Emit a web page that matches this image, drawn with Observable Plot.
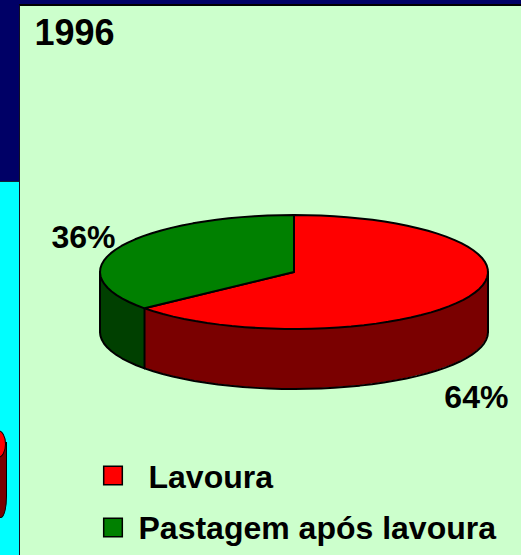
<!DOCTYPE html>
<html><head><meta charset="utf-8">
<script src="https://cdn.jsdelivr.net/npm/d3@7"></script>
<script src="https://cdn.jsdelivr.net/npm/@observablehq/plot@0.6"></script>
<style>
html,body{margin:0;padding:0;width:521px;height:555px;overflow:hidden;background:#000066}
#cyan{position:absolute;left:0;top:181px;width:19px;height:374px;background:#00ffff;border-top:1px solid #123;overflow:hidden}
#side{position:absolute;left:-10px;top:260px;width:16.5px;height:76px;background:#7a0000;border:1px solid #000;box-sizing:border-box;border-radius:0 0 6px 0/0 0 22px 0}
#lid{position:absolute;left:-10px;top:248px;width:16px;height:28px;background:#ff0000;border:1px solid #000;box-sizing:border-box;border-radius:50%}
#panel{position:absolute;left:19px;top:4px;width:502px;height:551px;background:#ccffcc;border-left:1px solid #112;border-top:2px solid #000;box-sizing:border-box}
#chart{position:absolute;left:0;top:0}
#chart svg{background:transparent;display:block}
</style></head><body>
<div id="cyan"><div id="side"></div><div id="lid"></div></div><div id="panel"></div><div id="chart"></div>
<script>
const title = "1996";
const categories = ["Lavoura", "Pastagem após lavoura"];
const shares = [64, 36];
const shareLabels = ["64%", "36%"];
const topColors = ["#ff0000", "#008000"];
const sideColors = ["#7a0000", "#004000"];

const depth = 60 / 57;
const total = d3.sum(shares);
const ang = v => v / total * 2 * Math.PI;
const steps = 90;
function arc(a0, a1) {
  const n = Math.max(2, Math.ceil(steps * (a1 - a0) / (2 * Math.PI)));
  return d3.range(n + 1).map(i => {
    const a = a0 + (a1 - a0) * i / n;
    return {a, x: Math.sin(a), y: Math.cos(a)};
  });
}
const a0 = 0, a1 = ang(shares[0]), a2 = 2 * Math.PI;
const lid = (a, b) => [{x:0,y:0}, ...arc(a, b), {x:0,y:0}];
const wallR = arc(Math.PI / 2, a1);
const wallG = arc(a1, 3 * Math.PI / 2);
const wallStyle = (pts, c) => Plot.areaY(pts, {x:"x", y1:"y", y2:d => d.y - depth, fill:c, curve:"linear"});
const outline = pts => Plot.line(pts, {x:"x", y:d => d.y - depth, stroke:"#000", strokeWidth:2});
const vline = a => Plot.line([{x:Math.sin(a),y:Math.cos(a)},{x:Math.sin(a),y:Math.cos(a)-depth}], {x:"x",y:"y",stroke:"#000",strokeWidth:2});
const labelPos = [{x:0.94,y:-2.2},{x:-1.085,y:0.6}];
const legendY = [477, 528];
const swatchY = [475, 527];
const legendX = [148, 138];

const plot = Plot.plot({
  width:521, height:555, margin:0,
  style:{background:"transparent", fontFamily:"'Liberation Sans',Arial,sans-serif"},
  x:{domain:[-1,1], range:[99.5,487.5], axis:null},
  y:{domain:[-1,1], range:[328.5,214.5], axis:null},
  marks:[
    wallStyle(wallR, sideColors[0]),
    wallStyle(wallG, sideColors[1]),
    outline(wallR), outline(wallG),
    vline(Math.PI/2), vline(a1), vline(3*Math.PI/2),
    Plot.line(lid(a0,a1), {x:"x",y:"y",fill:topColors[0],stroke:"#000",strokeWidth:2,curve:"linear"}),
    Plot.line(lid(a1,a2), {x:"x",y:"y",fill:topColors[1],stroke:"#000",strokeWidth:2,curve:"linear"}),
    Plot.text(shareLabels, {x:(d,i)=>labelPos[i].x, y:(d,i)=>labelPos[i].y, text:d=>d, fontSize:32, fontWeight:"bold", fill:"#000"}),
    Plot.text([title], {frameAnchor:"top-left", dx:34, dy:19, fontSize:36, fontWeight:"bold", fill:"#000", textAnchor:"start", lineAnchor:"top"}),
    ...categories.flatMap((c,i) => [
      Plot.dot([c], {frameAnchor:"top-left", dx:112.5, dy:swatchY[i], symbol:"square", r:10.5, fill:topColors[i], stroke:"#000", strokeWidth:1.5}),
      Plot.text([c], {frameAnchor:"top-left", dx:legendX[i], dy:legendY[i], text:d=>d, fontSize:32, fontWeight:"bold", fill:"#000", textAnchor:"start", lineAnchor:"middle"})
    ])
  ]
});
document.getElementById("chart").appendChild(plot);
</script>
</body></html>
